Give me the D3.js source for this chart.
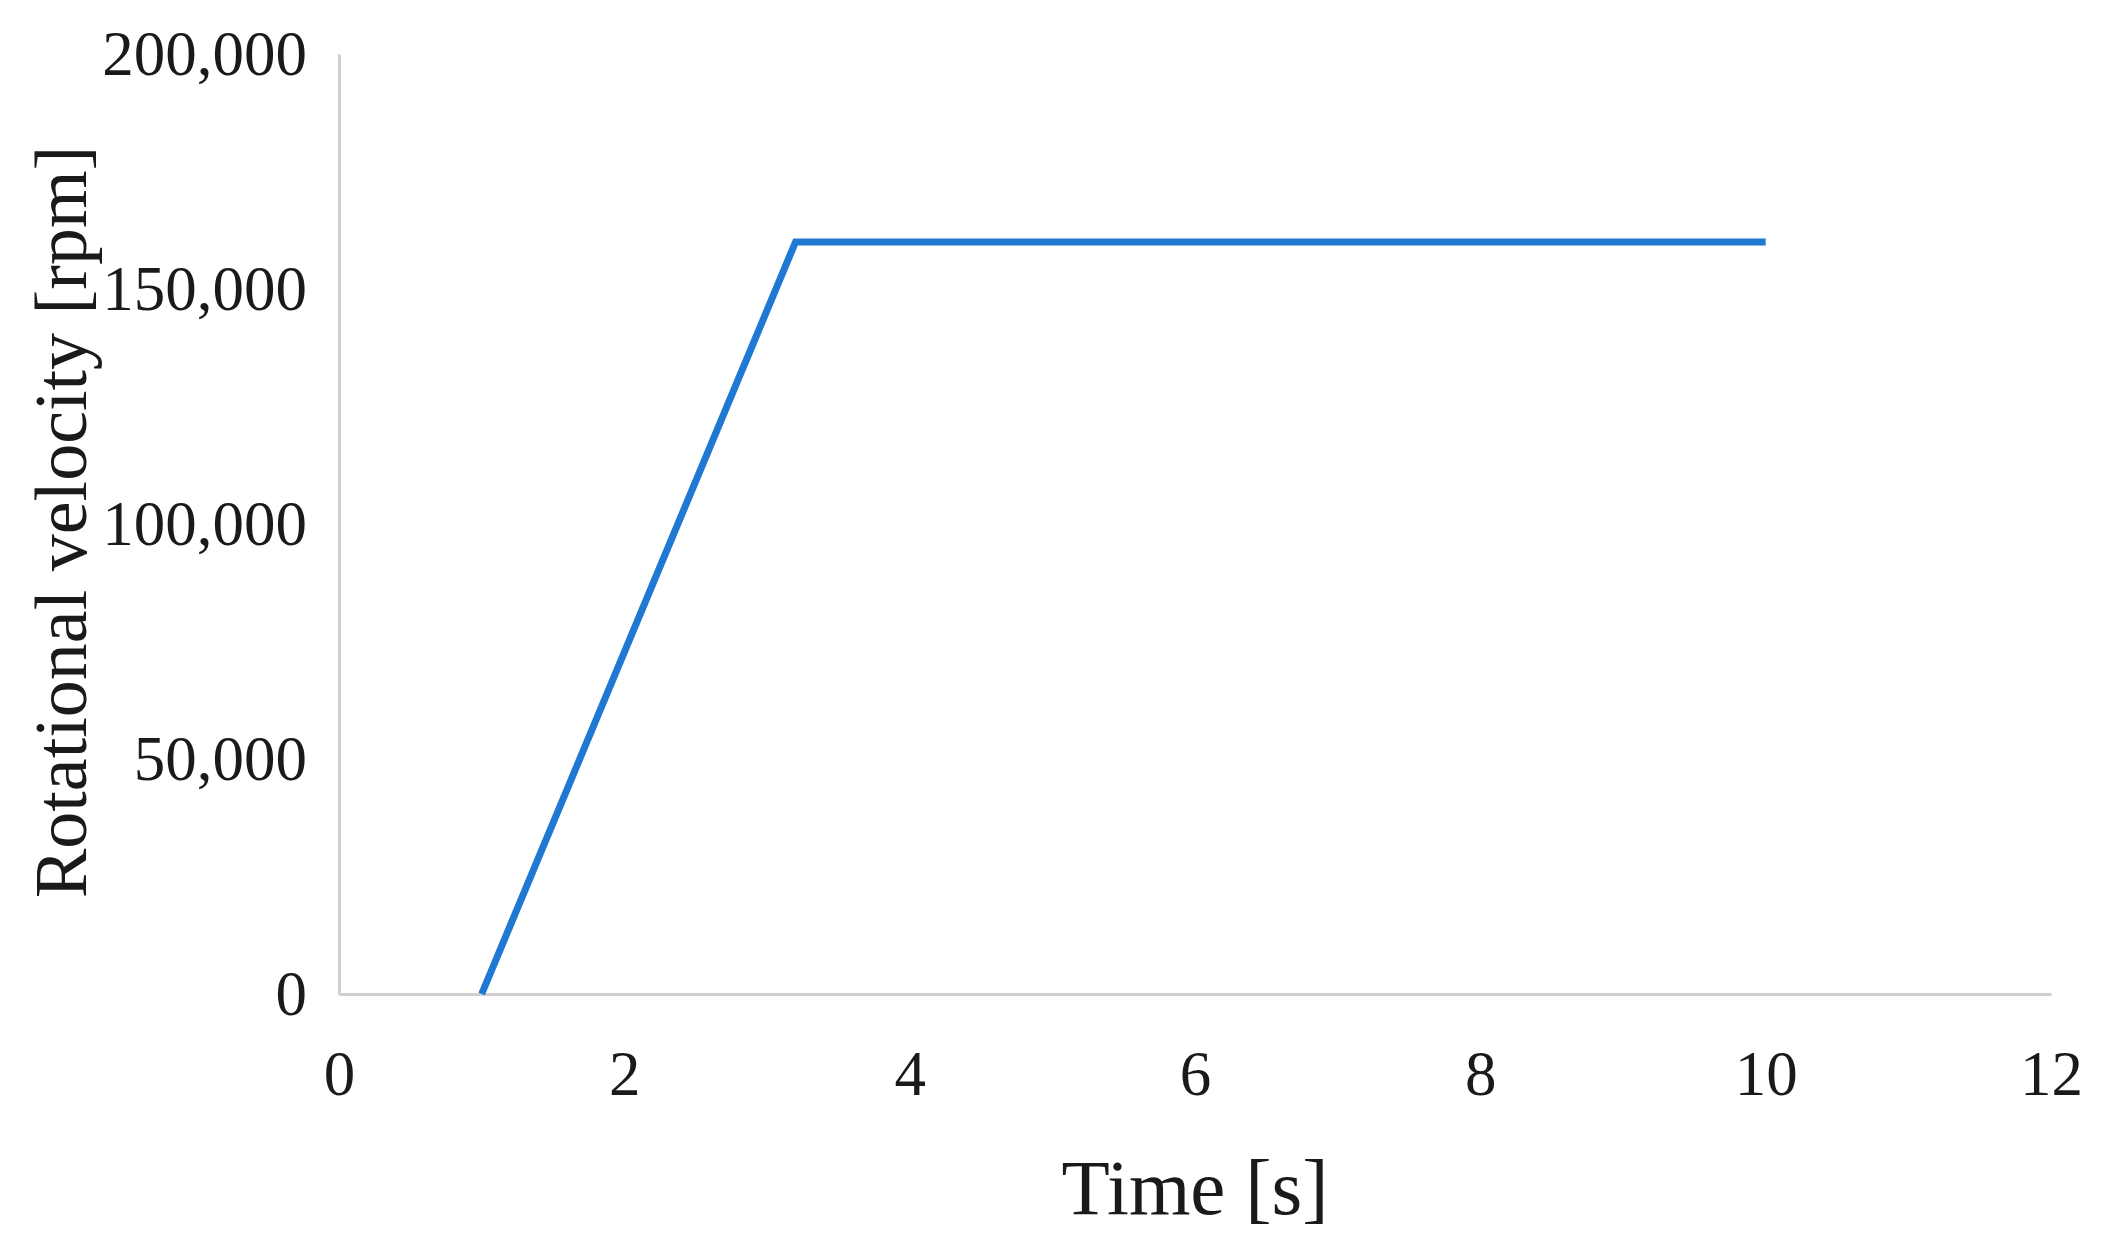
<!DOCTYPE html>
<html>
<head>
<meta charset="utf-8">
<script src="https://cdn.jsdelivr.net/npm/d3@7"></script>
<style>
  body { margin: 0; background: #fff; }
  text { font-family: "Liberation Serif", "DejaVu Serif", serif; fill: #1a1a1a; }
</style>
</head>
<body>
<div id="chart"></div>
<script>
// Data
var timeValues = [1, 3.2, 10];
var rpmValues = [0, 160000, 160000];
var xTicks = [0, 2, 4, 6, 8, 10, 12];
var yTicks = [0, 50000, 100000, 150000, 200000];

var w = 2101, h = 1245;
var margin = { top: 54, right: 50, bottom: 251, left: 339 };
var innerW = w - margin.left - margin.right;
var innerH = h - margin.top - margin.bottom;

var svg = d3.select("#chart").append("svg")
    .attr("width", w).attr("height", h)
    .append("g")
    .attr("transform", `translate(${margin.left}, ${margin.top})`);

var xScale = d3.scaleLinear().domain([0, 12]).range([0, innerW]);
var yScale = d3.scaleLinear().domain([0, 200000]).range([innerH, 0]);

// Axes
var xAxis = svg.append("g")
    .attr("transform", `translate(0, ${innerH})`)
    .call(d3.axisBottom(xScale).tickValues(xTicks).tickSize(0).tickPadding(56).tickFormat(d3.format("d")));
var yAxis = svg.append("g")
    .call(d3.axisLeft(yScale).tickValues(yTicks).tickSize(0).tickPadding(32).tickFormat(d3.format(",")));

[xAxis, yAxis].forEach(function(a) {
    a.select(".domain").attr("stroke", "#d0d0d0").attr("stroke-width", 3);
    a.selectAll("text").style("font-size", "63px").attr("fill", "#1a1a1a");
});

// Line
var line = d3.line()
    .x(function(d, i) { return xScale(timeValues[i]); })
    .y(function(d) { return yScale(d); });

svg.append("path")
    .datum(rpmValues)
    .attr("fill", "none")
    .attr("stroke", "#1f78d1")
    .attr("stroke-width", 7)
    .attr("d", line);

// Axis titles
svg.append("text")
    .attr("x", innerW / 2)
    .attr("y", innerH + 220)
    .attr("text-anchor", "middle")
    .style("font-size", "79px")
    .text("Time [s]");

svg.append("text")
    .attr("transform", "rotate(-90)")
    .attr("x", -(522 - margin.top))
    .attr("y", -margin.left + 86)
    .attr("text-anchor", "middle")
    .style("font-size", "74px")
    .text("Rotational velocity [rpm]");
</script>
</body>
</html>
